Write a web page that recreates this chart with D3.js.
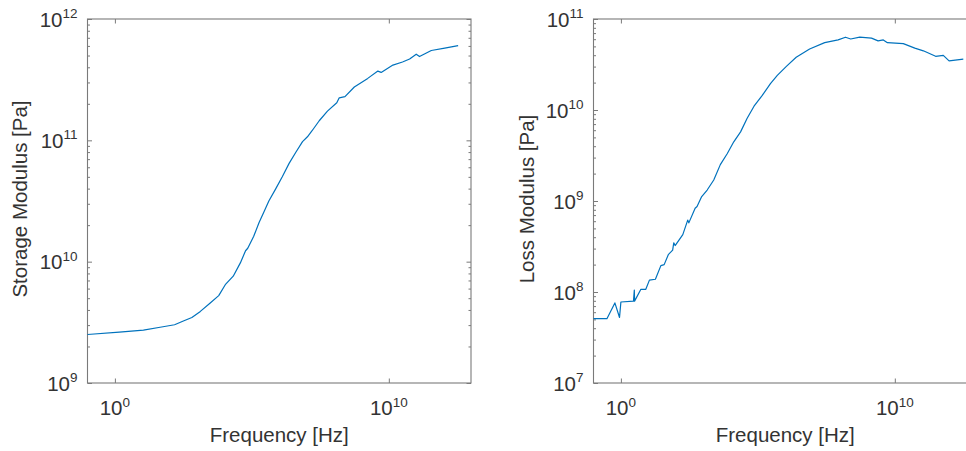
<!DOCTYPE html>
<html>
<head>
<meta charset="utf-8">
<script src="https://cdn.jsdelivr.net/npm/d3@7"></script>
<style>
  html, body { margin: 0; padding: 0; background: #fff; }
  svg { display: block; overflow: hidden; }
  text { font-family: "Liberation Sans", Arial, Helvetica, sans-serif; fill: #333333; }
</style>
</head>
<body>
<svg id="chart" width="966" height="451"></svg>
<script>
// ---------------- data ----------------
const storageFreq = [0.1, 1.45, 11.0, 44.7, 151, 316, 646, 1318, 3020, 6166,
  1.07e4, 2.09e4, 3.80e4, 5.89e4, 7.08e4, 1.17e5, 1.82e5, 2.75e5, 4.17e5, 7.41e5,
  1.29e6, 2.29e6, 3.98e6, 7.08e6, 1.07e7, 1.58e7, 2.88e7, 5.75e7, 1.26e8, 1.55e8,
  2.51e8, 5.50e8, 1.70e9, 3.98e9, 5.25e9, 1.41e10, 3.16e10, 5.75e10, 1.0e11, 1.32e11,
  3.55e11, 1.10e12, 3.39e12];
const storageModulus = [2.51e9, 2.63e9, 2.73e9, 2.88e9, 3.02e9, 3.24e9, 3.47e9, 3.89e9, 4.57e9, 5.25e9,
  6.46e9, 7.59e9, 9.77e9, 1.23e10, 1.29e10, 1.62e10, 2.09e10, 2.57e10, 3.16e10, 3.98e10,
  5.01e10, 6.46e10, 7.94e10, 9.77e10, 1.07e11, 1.20e11, 1.45e11, 1.74e11, 2.04e11, 2.24e11,
  2.29e11, 2.75e11, 3.24e11, 3.72e11, 3.63e11, 4.17e11, 4.42e11, 4.68e11, 5.13e11, 4.90e11,
  5.50e11, 5.75e11, 6.03e11];

const lossFreq = [0.1, 0.309, 0.603, 0.891, 1.0, 2.88, 3.09, 3.16, 5.37, 8.13,
  11.0, 18.2, 28.8, 38.0, 53.7, 77.6, 85.1, 95.5, 182, 275,
  302, 513, 603, 891, 1413, 2455, 4266, 7586, 1.32e4, 2.34e4,
  4.07e4, 7.24e4, 1.45e5, 2.88e5, 5.13e5, 1.10e6, 2.51e6, 7.76e6, 2.75e7, 8.51e7,
  1.58e8, 2.45e8, 5.25e8, 1.41e9, 2.45e9, 3.80e9, 5.37e9, 2.04e10, 5.37e10, 1.10e11,
  3.09e11, 5.89e11, 9.55e11, 3.16e12];
const lossModulus = [5.09e7, 5.09e7, 7.59e7, 5.25e7, 7.76e7, 7.94e7, 1.05e8, 7.94e7, 1.07e8, 1.07e8,
  1.35e8, 1.38e8, 1.95e8, 2.0e8, 2.57e8, 2.88e8, 3.47e8, 3.24e8, 4.27e8, 6.17e8,
  5.75e8, 8.32e8, 8.71e8, 1.12e9, 1.32e9, 1.70e9, 2.51e9, 3.31e9, 4.47e9, 5.75e9,
  8.13e9, 1.10e10, 1.45e10, 1.95e10, 2.40e10, 3.02e10, 3.80e10, 4.68e10, 5.50e10, 5.89e10,
  6.31e10, 6.03e10, 6.31e10, 6.17e10, 5.75e10, 5.89e10, 5.50e10, 5.37e10, 4.79e10, 4.47e10,
  3.89e10, 3.98e10, 3.47e10, 3.63e10];

const xDomain = [0.1, 1e13];
const xTickValues = [1e0, 1e10];
const xTickExponents = ["0", "10"];
const leftYDomain = [1e9, 1e12];
const leftYTicks = [1e9, 1e10, 1e11, 1e12];
const leftYExponents = ["9", "10", "11", "12"];
const rightYDomain = [1e7, 1e11];
const rightYTicks = [1e7, 1e8, 1e9, 1e10, 1e11];
const rightYExponents = ["7", "8", "9", "10", "11"];
const xLabel = "Frequency [Hz]";
const leftYLabel = "Storage Modulus [Pa]";
const rightYLabel = "Loss Modulus [Pa]";

// ---------------- drawing ----------------
const svg = d3.select("#chart");
const lineColor = "#0072BD";
const axisColor = "#7a7a7a";
const fontSize = 20.5, supSize = 13.5;

function panel(opts) {
  const {x0, x1, y0, y1, xs, ys, yDomain, yTicks, yExps, yLabel, yLabelX} = opts;
  const x = d3.scaleLog().domain(xDomain).range([x0, x1]);
  const y = d3.scaleLog().domain(yDomain).range([y1, y0]);
  const g = svg.append("g");

  // minor y ticks
  const minor = [];
  const lo = Math.log10(yDomain[0]), hi = Math.log10(yDomain[1]);
  for (let e = lo; e < hi; e++) for (let m = 2; m <= 9; m++) minor.push(m * Math.pow(10, e));

  const majorLen = 4.5, minorLen = 2.5;
  const axL = g.append("g").attr("transform", `translate(${x0},0)`)
    .call(d3.axisRight(y).tickValues(minor).tickSize(minorLen).tickFormat(""));
  const axL2 = g.append("g").attr("transform", `translate(${x0},0)`)
    .call(d3.axisRight(y).tickValues(yTicks).tickSize(majorLen).tickFormat(""));
  const axR = g.append("g").attr("transform", `translate(${x1},0)`)
    .call(d3.axisLeft(y).tickValues(minor).tickSize(minorLen).tickFormat(""));
  const axR2 = g.append("g").attr("transform", `translate(${x1},0)`)
    .call(d3.axisLeft(y).tickValues(yTicks).tickSize(majorLen).tickFormat(""));
  const axB = g.append("g").attr("transform", `translate(0,${y1})`)
    .call(d3.axisTop(x).tickValues(xTickValues).tickSize(majorLen).tickFormat(""));
  const axT = g.append("g").attr("transform", `translate(0,${y0})`)
    .call(d3.axisBottom(x).tickValues(xTickValues).tickSize(majorLen).tickFormat(""));
  [axL, axL2, axR, axR2, axB, axT].forEach(a => {
    a.select(".domain").remove();
    a.selectAll("line").attr("stroke", axisColor).attr("stroke-width", 1);
  });

  g.append("rect").attr("x", x0).attr("y", y0).attr("width", x1 - x0).attr("height", y1 - y0)
    .attr("fill", "none").attr("stroke", axisColor).attr("stroke-width", 1.1);

  xTickValues.forEach((v, i) => {
    const t = g.append("text").attr("x", x(v)).attr("y", y1 + 32)
      .attr("text-anchor", "middle").attr("font-size", fontSize);
    t.append("tspan").text("10");
    t.append("tspan").attr("dy", -8.5).attr("font-size", supSize).text(xTickExponents[i]);
  });
  yTicks.forEach((v, i) => {
    const t = g.append("text").attr("x", x0 - 10).attr("y", y(v) + 7.5)
      .attr("text-anchor", "end").attr("font-size", fontSize);
    t.append("tspan").text("10");
    t.append("tspan").attr("dy", -8.5).attr("font-size", supSize).text(yExps[i]);
  });

  g.append("text").attr("x", (x0 + x1) / 2).attr("y", 441.5)
    .attr("text-anchor", "middle").attr("font-size", fontSize).text(xLabel);
  g.append("text").attr("transform", `translate(${yLabelX},${(y0 + y1) / 2 - 2}) rotate(-90)`)
    .attr("text-anchor", "middle").attr("font-size", fontSize).text(yLabel);

  const data = xs.map((d, i) => [d, ys[i]]);
  g.append("path").datum(data)
    .attr("fill", "none").attr("stroke", lineColor).attr("stroke-width", 1.2)
    .attr("stroke-linejoin", "round")
    .attr("d", d3.line().x(d => x(d[0])).y(d => y(d[1])));
}

panel({x0: 87.5, x1: 471, y0: 19, y1: 383, xs: storageFreq, ys: storageModulus,
  yDomain: leftYDomain, yTicks: leftYTicks, yExps: leftYExponents, yLabel: leftYLabel, yLabelX: 27});
panel({x0: 593.5, x1: 977, y0: 19, y1: 383, xs: lossFreq, ys: lossModulus,
  yDomain: rightYDomain, yTicks: rightYTicks, yExps: rightYExponents, yLabel: rightYLabel, yLabelX: 533.5});
</script>
</body>
</html>
